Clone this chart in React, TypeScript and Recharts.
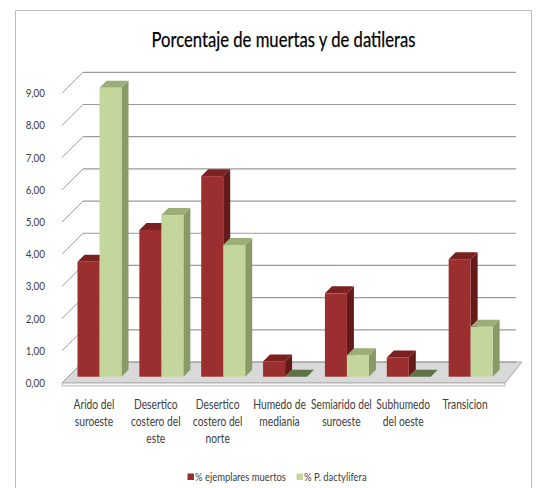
import React from 'react';
import { BarChart, Bar, XAxis, YAxis, CartesianGrid } from 'recharts';

const chartTitle = 'Porcentaje de muertas y de datileras';
const categories = [
  'Arido del suroeste',
  'Desertico costero del este',
  'Desertico costero del norte',
  'Humedo de mediania',
  'Semiarido del suroeste',
  'Subhumedo del oeste',
  'Transicion',
];
const categoryLabelLines = [
  ['Arido del', 'suroeste'],
  ['Desertico', 'costero del', 'este'],
  ['Desertico', 'costero del', 'norte'],
  ['Humedo de', 'mediania'],
  ['Semiarido del', 'suroeste'],
  ['Subhumedo', 'del oeste'],
  ['Transicion'],
];
const muertos = [3.57, 4.56, 6.23, 0.47, 2.59, 0.6, 3.65];
const dactylifera = [8.98, 5.02, 4.09, 0.0, 0.67, 0.0, 1.55];
const seriesNames = ['% ejemplares muertos', '% P. dactylifera'];
const yTicks = [0, 1, 2, 3, 4, 5, 6, 7, 8, 9];

const data = categories.map((name, i) => ({ name, muertos: muertos[i], dactylifera: dactylifera[i] }));

const W = 541;
const H = 488;
const FONT = 'Lato, "Liberation Sans", sans-serif';
const TEXT = '#404040';
const CONDENSE = 0.82;

// depth geometry
const WALL_DX = 20;
const WALL_DY = -21;
const BAR_DX = 6;
const BAR_DY = -6.3;
const SIDE_DX = 7;
const SIDE_DY = -7;

const colors = {
  red: { front: '#9b2e2e', top: '#7c2121', side: '#651a1a', flat: '#6e1d1d' },
  green: { front: '#c3d69b', top: '#9cae78', side: '#889a66', flat: '#5f7348' },
};

const makeBar3D = (c: any) => (props: any) => {
  const { x, y, width, height } = props;
  if (x == null || y == null) return null;
  const h = Math.max(Number(height) || 0, 0);
  const w = Number(width);
  const fx = x + BAR_DX;
  const fy = y + BAR_DY;
  const topPts = `${fx},${fy} ${fx + SIDE_DX},${fy + SIDE_DY} ${fx + w + SIDE_DX},${fy + SIDE_DY} ${fx + w},${fy}`;
  if (h < 0.5) {
    return <polygon points={topPts} fill={c.flat} />;
  }
  const sidePts = `${fx + w},${fy} ${fx + w + SIDE_DX},${fy + SIDE_DY} ${fx + w + SIDE_DX},${fy + h + SIDE_DY} ${fx + w},${fy + h}`;
  return (
    <g>
      <polygon points={sidePts} fill={c.side} />
      <polygon points={topPts} fill={c.top} />
      <rect x={fx} y={fy} width={w} height={h} fill={c.front} />
    </g>
  );
};

const PLOT_BOTTOM = 383;

const gridLine = (p: any) => {
  const { x1, x2, y1, index } = p;
  const isFloor = Math.abs(y1 - PLOT_BOTTOM) < 1.5;
  return (
    <g key={`gl-${index}`}>
      {isFloor ? (
        <g>
          <polygon
            points={`${x1 - 1},${y1} ${x2 + 9},${y1} ${x2 + 9 + 17},${y1 + WALL_DY} ${x1 + WALL_DX},${y1 + WALL_DY}`}
            fill="#d9d9d9"
            stroke="#a8a8a8"
            strokeWidth={1}
          />
          <polygon
            points={`${x1 - 1},${y1} ${x2 + 9},${y1} ${x2 + 9},${y1 + 3} ${x1 - 1},${y1 + 3}`}
            fill="#f6f6f6"
            stroke="#a8a8a8"
            strokeWidth={0.8}
          />
        </g>
      ) : null}
      <line x1={x1 - 1} y1={y1} x2={x1 + WALL_DX} y2={y1 + WALL_DY} stroke="#9a9a9a" strokeWidth={1} />
      <line x1={x1 + WALL_DX} y1={y1 + WALL_DY} x2={x2 + WALL_DX} y2={y1 + WALL_DY} stroke="#9a9a9a" strokeWidth={1.2} />
    </g>
  );
};

const fmt = (v: number) => v.toFixed(2).replace('.', ',');

const YTick = (props: any) => {
  const { x, y, payload } = props;
  return (
    <g transform={`translate(${x - 18},${y + 4}) scale(${CONDENSE},1)`}>
      <text x={0} y={0} textAnchor="end" fontSize={12} fontFamily={FONT} fill={TEXT}>
        {fmt(Number(payload.value))}
      </text>
    </g>
  );
};

const XTick = (props: any) => {
  const { x, y, payload } = props;
  const idx = categories.indexOf(payload.value);
  const lines = idx >= 0 ? categoryLabelLines[idx] : [String(payload.value)];
  return (
    <g transform={`translate(${x},${y + 26}) scale(${CONDENSE},1)`}>
      <text x={0} y={0} textAnchor="middle" fontSize={12.5} fontFamily={FONT} fill={TEXT}>
        {lines.map((l, i) => (
          <tspan key={i} x={0} dy={i === 0 ? 0 : 16.8}>
            {l}
          </tspan>
        ))}
      </text>
    </g>
  );
};

export default function App() {
  return (
    <div style={{ position: 'absolute', left: 0, top: 0, width: W, height: H, background: '#fff', overflow: 'hidden' }}>
      <div
        style={{
          position: 'absolute',
          left: 15,
          top: 10,
          width: 517,
          height: 500,
          border: '1px solid #bdbdbd',
          boxSizing: 'border-box',
        }}
      />
      <svg width={W} height={H} style={{ position: 'absolute', left: 0, top: 0 }}>
        <text
          x={283.5}
          y={47}
          textAnchor="middle"
          fontSize={22}
          fontFamily={FONT}
          fill="#000"
          stroke="#000"
          strokeWidth={0.25}
          textLength={264}
          lengthAdjust="spacingAndGlyphs"
        >
          {chartTitle}
        </text>
        <g fontFamily={FONT} fontSize={11.5} fill={TEXT}>
          <rect x={187.5} y={473.5} width={6.5} height={6.5} fill={colors.red.front} />
          <g transform={`translate(195,480.5) scale(${CONDENSE},1)`}>
            <text x={0} y={0}>{seriesNames[0]}</text>
          </g>
          <rect x={296.5} y={473.5} width={6.5} height={6.5} fill={colors.green.front} />
          <g transform={`translate(304,480.5) scale(${CONDENSE},1)`}>
            <text x={0} y={0}>{seriesNames[1]}</text>
          </g>
        </g>
      </svg>
      <div style={{ position: 'absolute', left: 0, top: 0 }}>
        <BarChart
          width={W}
          height={H}
          data={data}
          margin={{ top: 93.3, right: 45, bottom: 35, left: 13 }}
          barCategoryGap={8.5}
          barGap={0}
        >
          <CartesianGrid vertical={false} horizontal={gridLine} />
          <YAxis
            type="number"
            domain={[0, 9]}
            ticks={yTicks}
            width={50}
            axisLine={false}
            tickLine={false}
            tickSize={0}
            tickMargin={0}
            tick={<YTick />}
            interval={0}
          />
          <XAxis
            dataKey="name"
            height={70}
            axisLine={false}
            tickLine={false}
            tickSize={0}
            tickMargin={0}
            tick={<XTick />}
            interval={0}
          />
          <Bar dataKey="muertos" name={seriesNames[0]} isAnimationActive={false} shape={makeBar3D(colors.red)} />
          <Bar dataKey="dactylifera" name={seriesNames[1]} isAnimationActive={false} shape={makeBar3D(colors.green)} />
        </BarChart>
      </div>
    </div>
  );
}
